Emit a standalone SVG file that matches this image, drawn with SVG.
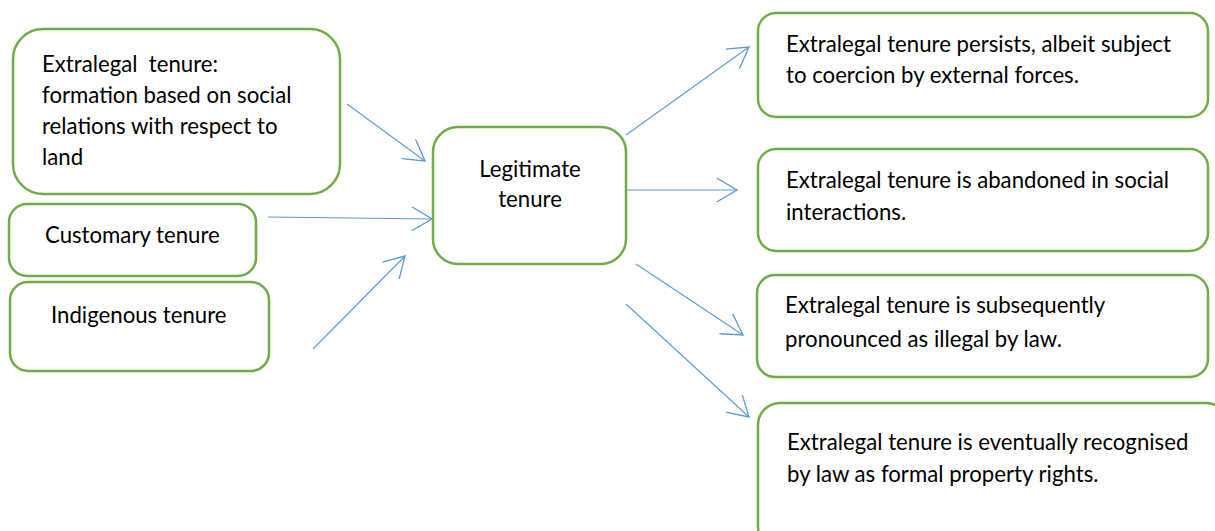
<svg xmlns="http://www.w3.org/2000/svg" width="1215" height="531" viewBox="0 0 1215 531">
<style>
.box{fill:#fff;stroke:#70AD47;stroke-width:2.5}
.t{font-family:Lato,"Open Sans","Liberation Sans",sans-serif;font-size:22.2px;fill:#000}
.c{text-anchor:middle}
.conn{stroke:#5B9BD5;stroke-width:1.1;fill:none}
</style>
<defs>
<marker id="arr" markerUnits="userSpaceOnUse" markerWidth="24" markerHeight="24" refX="18" refY="10" orient="auto" viewBox="0 0 20 20">
<path d="M1,0 L18,10 L1,20" fill="none" stroke="#5B9BD5" stroke-width="1.1"/>
</marker>
</defs>
<rect width="1215" height="531" fill="#fff"/>
<g id="connectors">
<line class="conn" x1="347" y1="104" x2="425" y2="161" marker-end="url(#arr)"/>
<line class="conn" x1="268" y1="217" x2="432" y2="219" marker-end="url(#arr)"/>
<line class="conn" x1="313" y1="349" x2="405" y2="256" marker-end="url(#arr)"/>
<line class="conn" x1="626" y1="135" x2="749" y2="47" marker-end="url(#arr)"/>
<line class="conn" x1="626" y1="190" x2="737" y2="190" marker-end="url(#arr)"/>
<line class="conn" x1="636" y1="264" x2="743" y2="335" marker-end="url(#arr)"/>
<line class="conn" x1="626" y1="304" x2="749" y2="417" marker-end="url(#arr)"/>
</g>
<g id="extralegal">
<rect class="box" x="13" y="29" width="327" height="165" rx="30"/>
<text class="t" x="42" y="72" xml:space="preserve">Extralegal  tenure:</text>
<text class="t" x="42" y="103">formation based on social</text>
<text class="t" x="42" y="134">relations with respect to</text>
<text class="t" x="42" y="165">land</text>
</g>
<g id="customary">
<rect class="box" x="9" y="204" width="247" height="72" rx="18"/>
<text class="t" x="45" y="243">Customary tenure</text>
</g>
<g id="indigenous">
<rect class="box" x="10" y="282" width="259" height="89" rx="18"/>
<text class="t" x="51" y="323">Indigenous tenure</text>
</g>
<g id="legitimate">
<rect class="box" x="433" y="127" width="193" height="137" rx="25"/>
<text class="t c" x="530" y="177">Legitimate</text>
<text class="t c" x="530" y="207">tenure</text>
</g>
<g id="persists">
<rect class="box" x="758" y="13" width="450" height="104" rx="18"/>
<text class="t" x="786" y="52">Extralegal tenure persists, albeit subject</text>
<text class="t" x="786" y="83">to coercion by external forces.</text>
</g>
<g id="abandoned">
<rect class="box" x="758" y="149" width="450" height="102" rx="18"/>
<text class="t" x="786" y="188">Extralegal tenure is abandoned in social</text>
<text class="t" x="786" y="220">interactions.</text>
</g>
<g id="illegal">
<rect class="box" x="757" y="275" width="451" height="102" rx="18"/>
<text class="t" x="785" y="313">Extralegal tenure is subsequently</text>
<text class="t" x="785" y="347">pronounced as illegal by law.</text>
</g>
<g id="recognised">
<rect class="box" x="758" y="403" width="470" height="145" rx="22"/>
<text class="t" x="787" y="450">Extralegal tenure is eventually recognised</text>
<text class="t" x="787" y="482">by law as formal property rights.</text>
</g>
</svg>
